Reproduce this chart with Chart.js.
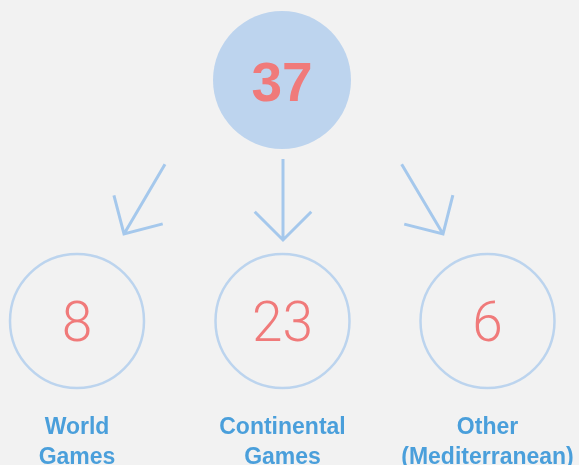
<!DOCTYPE html>
<html>
<head>
<meta charset="utf-8">
<script src="https://cdn.jsdelivr.net/npm/chart.js@4.4.0/dist/chart.umd.min.js"></script>
<style>
  html, body { margin: 0; padding: 0; background: #f2f2f2; }
  #wrap { width: 579px; height: 465px; position: relative; }
</style>
</head>
<body>
<div id="wrap"><canvas id="c"></canvas></div>
<script>
// ---- data ----
const totalValue = 37;
const categories = [["World", "Games"], ["Continental", "Games"], ["Other", "(Mediterranean)"]];
const values = [8, 23, 6];

// ---- layout (pixel-space positions used on a 1:1 scale) ----
const topNode = { x: 282, y: 80, r: 69 };
const childX = [77, 282.5, 487.5];
const childY = 321;
const childR = 67;
const arrowTipX = [124, 283, 443];
const arrowTipY = [234, 240, 234];
const arrowAngle = [120.4, 90, 59.3]; // degrees, direction of travel (y down)
const arrowLen = 81, headLen = 40, headAngle = 45;
const labelY = [434, 464];

// Build arrow polylines (null breaks between arrows)
const arrowPts = [];
arrowTipX.forEach((tx, i) => {
  const ty = arrowTipY[i];
  const a = arrowAngle[i] * Math.PI / 180;
  const back = a + Math.PI;
  const tail = { x: tx + Math.cos(back) * arrowLen, y: ty + Math.sin(back) * arrowLen };
  const h1a = back - headAngle * Math.PI / 180, h2a = back + headAngle * Math.PI / 180;
  const h1 = { x: tx + Math.cos(h1a) * headLen, y: ty + Math.sin(h1a) * headLen };
  const h2 = { x: tx + Math.cos(h2a) * headLen, y: ty + Math.sin(h2a) * headLen };
  arrowPts.push(tail, { x: tx, y: ty }, { x: NaN, y: null });
  arrowPts.push(h1, { x: tx, y: ty }, h2, { x: NaN, y: null });
});

const textPlugin = {
  id: 'nodeText',
  afterDatasetsDraw(chart) {
    const { ctx, scales: { x, y } } = chart;
    ctx.save();
    ctx.textAlign = 'center';
    ctx.textBaseline = 'alphabetic';
    // total
    ctx.fillStyle = '#f07a7a';
    ctx.font = 'bold 55px "Liberation Sans", Arial, sans-serif';
    ctx.fillText(String(totalValue), x.getPixelForValue(topNode.x), y.getPixelForValue(101));
    // child values
    ctx.font = '300 55px Roboto, "Liberation Sans", sans-serif';
    values.forEach((v, i) => {
      ctx.fillText(String(v), x.getPixelForValue(childX[i]), y.getPixelForValue(341));
    });
    // labels
    ctx.fillStyle = '#4a9fdb';
    ctx.font = 'bold 23px "Liberation Sans", Arial, sans-serif';
    categories.forEach((lines, i) => {
      lines.forEach((t, j) => {
        ctx.fillText(t, x.getPixelForValue(childX[i]), y.getPixelForValue(labelY[j]));
      });
    });
    ctx.restore();
  }
};

new Chart(document.getElementById('c'), {
  type: 'bubble',
  data: {
    datasets: [
      {
        label: 'total',
        data: [{ x: topNode.x, y: topNode.y, r: topNode.r }],
        backgroundColor: '#bdd4ee',
        borderWidth: 0
      },
      {
        label: 'parts',
        data: childX.map(cx => ({ x: cx, y: childY, r: childR })),
        backgroundColor: 'rgba(0,0,0,0)',
        borderColor: '#bcd4ee',
        borderWidth: 2.5
      },
      {
        type: 'line',
        label: 'arrows',
        data: arrowPts,
        borderColor: '#a5c8ec',
        borderWidth: 3,
        pointRadius: 0,
        fill: false,
        spanGaps: false,
        tension: 0,
        borderCapStyle: 'butt',
        borderJoinStyle: 'miter'
      }
    ]
  },
  options: {
    responsive: true,
    maintainAspectRatio: false,
    animation: false,
    events: [],
    layout: { padding: 0, autoPadding: false },
    plugins: { legend: { display: false }, tooltip: { enabled: false } },
    scales: {
      x: { type: 'linear', min: 0, max: 579, display: false },
      y: { type: 'linear', min: 0, max: 465, reverse: true, display: false }
    }
  },
  plugins: [textPlugin]
});
</script>
</body>
</html>
